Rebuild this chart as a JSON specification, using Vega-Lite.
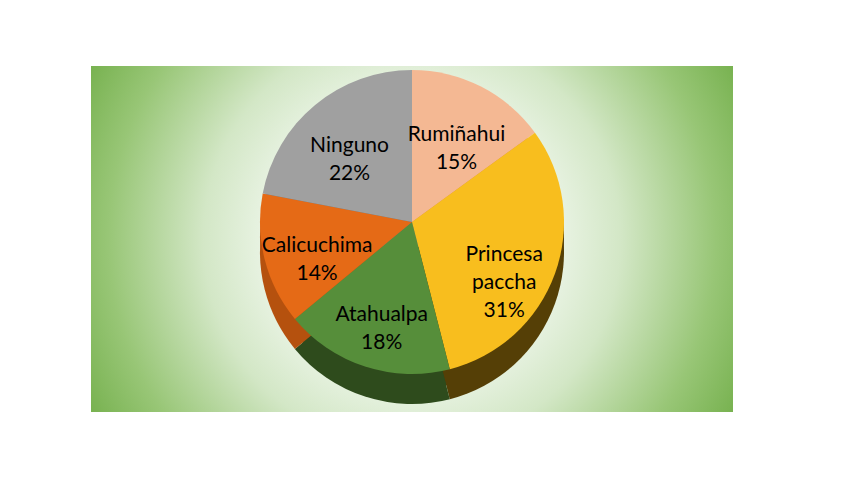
{
  "$schema": "https://vega.github.io/schema/vega-lite/v6.json",
  "width": 642,
  "height": 346,
  "autosize": {"type": "none"},
  "padding": {"left": 91, "top": 66, "right": 127, "bottom": 84},
  "background": "white",
  "config": {"view": {"stroke": null}},
  "datasets": {
    "votos": [
      {"candidato": "Rumiñahui", "porcentaje": 15, "orden": 1},
      {"candidato": "Princesa paccha", "porcentaje": 31, "orden": 2},
      {"candidato": "Atahualpa", "porcentaje": 18, "orden": 3},
      {"candidato": "Calicuchima", "porcentaje": 14, "orden": 4},
      {"candidato": "Ninguno", "porcentaje": 22, "orden": 5}
    ]
  },
  "layer": [
    {
      "data": {"values": [{}]},
      "mark": {
        "type": "arc",
        "theta": 6.2832,
        "outerRadius": 380,
        "clip": true,
        "fill": {
          "gradient": "radial",
          "stops": [
            {"offset": 0, "color": "#ffffff"},
            {"offset": 0.35, "color": "#eef6ea"},
            {"offset": 0.55, "color": "#d3e7c6"},
            {"offset": 0.8, "color": "#98c676"},
            {"offset": 1, "color": "#70ad47"}
          ]
        }
      },
      "encoding": {}
    },
    {
      "data": {"name": "votos"},
      "mark": {"type": "arc", "outerRadius": 152, "yOffset": -2},
      "encoding": {
        "theta": {"field": "porcentaje", "type": "quantitative", "stack": true},
        "order": {"field": "orden", "type": "quantitative"},
        "color": {
          "field": "candidato",
          "type": "nominal",
          "legend": null,
          "scale": {
            "domain": ["Rumiñahui", "Princesa paccha", "Atahualpa", "Calicuchima", "Ninguno"],
            "range": ["#d98a5c", "#553f06", "#2e4b1c", "#b5510e", "#6e6e6e"]
          }
        }
      }
    },
    {
      "data": {"name": "votos"},
      "mark": {"type": "arc", "outerRadius": 152, "yOffset": 13},
      "encoding": {
        "theta": {"field": "porcentaje", "type": "quantitative", "stack": true},
        "order": {"field": "orden", "type": "quantitative"},
        "color": {
          "field": "candidato",
          "type": "nominal",
          "legend": null,
          "scale": {
            "domain": ["Rumiñahui", "Princesa paccha", "Atahualpa", "Calicuchima", "Ninguno"],
            "range": ["#d98a5c", "#553f06", "#2e4b1c", "#b5510e", "#6e6e6e"]
          }
        }
      }
    },
    {
      "data": {"name": "votos"},
      "mark": {"type": "arc", "outerRadius": 152, "yOffset": -17},
      "encoding": {
        "theta": {"field": "porcentaje", "type": "quantitative", "stack": true},
        "order": {"field": "orden", "type": "quantitative"},
        "color": {
          "field": "candidato",
          "type": "nominal",
          "legend": null,
          "scale": {
            "domain": ["Rumiñahui", "Princesa paccha", "Atahualpa", "Calicuchima", "Ninguno"],
            "range": ["#f4b893", "#f8be1e", "#568e3a", "#e56a16", "#a0a0a0"]
          }
        }
      }
    },
    {
      "data": {"name": "votos"},
      "transform": [
        {"calculate": "datum.candidato + ' ' + datum.porcentaje + '%'", "as": "etiqueta"}
      ],
      "mark": {
        "type": "text",
        "radius": 98,
        "yOffset": -17,
        "font": "Lato",
        "fontSize": 21,
        "lineBreak": " ",
        "lineHeight": 28,
        "color": "#000000"
      },
      "encoding": {
        "theta": {"field": "porcentaje", "type": "quantitative", "stack": true},
        "order": {"field": "orden", "type": "quantitative"},
        "text": {"field": "etiqueta", "type": "nominal"}
      }
    }
  ],
  "resolve": {"scale": {"color": "independent"}}
}
